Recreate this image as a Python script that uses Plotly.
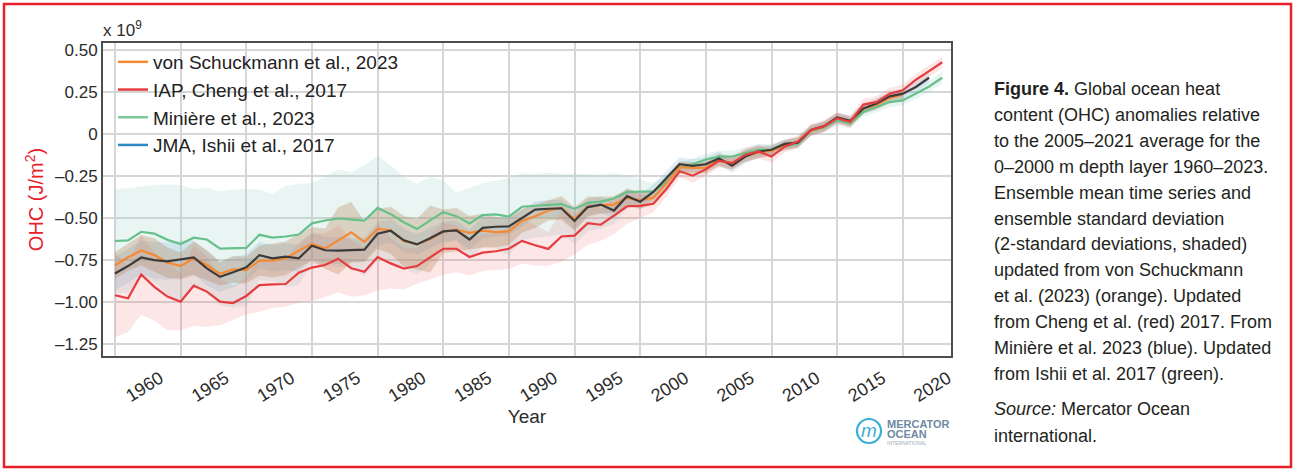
import plotly.graph_objects as go

# ---------------------------------------------------------------- data
years = list(range(1960, 2024))          # IAP and Minière: 1960-2023
vs_years = list(range(1960, 2021))       # von Schuckmann: 1960-2020
jma_years = list(range(1960, 2023))      # JMA: 1960-2022

# OHC anomaly (x 10^9 J/m^2)
iap_cheng = [
    -0.960, -0.978, -0.836, -0.910, -0.968, -0.998, -0.903, -0.938, -0.998, -1.006,
    -0.964, -0.899, -0.895, -0.893, -0.825, -0.795, -0.780, -0.742, -0.799, -0.820,
    -0.732, -0.770, -0.801, -0.786, -0.734, -0.683, -0.683, -0.732, -0.706, -0.698,
    -0.683, -0.636, -0.662, -0.684, -0.610, -0.605, -0.531, -0.540, -0.486, -0.430,
    -0.428, -0.415, -0.327, -0.222, -0.248, -0.210, -0.160, -0.173, -0.124, -0.104,
    -0.134, -0.075, -0.045, 0.024, 0.047, 0.093, 0.073, 0.175, 0.190, 0.240,
    0.260, 0.323, 0.374, 0.427,
]
miniere = [
    -0.637, -0.633, -0.582, -0.593, -0.630, -0.655, -0.617, -0.628, -0.682, -0.682,
    -0.678, -0.600, -0.617, -0.610, -0.598, -0.532, -0.515, -0.503, -0.508, -0.516,
    -0.440, -0.477, -0.525, -0.566, -0.514, -0.465, -0.489, -0.532, -0.483, -0.478,
    -0.492, -0.433, -0.427, -0.420, -0.417, -0.446, -0.410, -0.402, -0.384, -0.345,
    -0.341, -0.341, -0.285, -0.200, -0.180, -0.152, -0.135, -0.134, -0.114, -0.094,
    -0.094, -0.071, -0.059, 0.020, 0.039, 0.083, 0.063, 0.132, 0.161, 0.190,
    0.200, 0.240, 0.283, 0.335,
]
jma_ishii = [
    -0.830, -0.786, -0.735, -0.751, -0.758, -0.745, -0.734, -0.800, -0.850, -0.823,
    -0.794, -0.722, -0.740, -0.730, -0.740, -0.665, -0.692, -0.694, -0.692, -0.688,
    -0.594, -0.576, -0.633, -0.657, -0.620, -0.580, -0.574, -0.628, -0.559, -0.552,
    -0.550, -0.500, -0.450, -0.445, -0.442, -0.518, -0.435, -0.420, -0.456, -0.370,
    -0.403, -0.345, -0.260, -0.180, -0.190, -0.180, -0.146, -0.189, -0.134, -0.104,
    -0.094, -0.059, -0.051, 0.024, 0.047, 0.098, 0.079, 0.152, 0.181, 0.224,
    0.240, 0.280, 0.335,
]
von_schuckmann = [
    -0.782, -0.734, -0.693, -0.720, -0.765, -0.786, -0.740, -0.780, -0.832, -0.806,
    -0.810, -0.754, -0.754, -0.740, -0.694, -0.655, -0.682, -0.636, -0.585, -0.642,
    -0.565, -0.573, -0.638, -0.656, -0.625, -0.580, -0.570, -0.588, -0.575, -0.584,
    -0.580, -0.516, -0.490, -0.455, -0.440, -0.506, -0.433, -0.423, -0.420, -0.380,
    -0.393, -0.380, -0.294, -0.198, -0.202, -0.200, -0.155, -0.175, -0.130, -0.110,
    -0.100, -0.065, -0.050, 0.020, 0.045, 0.095, 0.072, 0.150, 0.175, 0.215,
    0.235,
]

# two-standard-deviation spreads (half-width of each shaded band)
iap_cheng_sd = [
    0.25, 0.20, 0.24, 0.20, 0.20, 0.17, 0.24, 0.21, 0.14, 0.10,
    0.11, 0.16, 0.14, 0.135, 0.18, 0.20, 0.19, 0.20, 0.17, 0.14,
    0.20, 0.15, 0.125, 0.105, 0.13, 0.155, 0.14, 0.11, 0.11, 0.11,
    0.12, 0.135, 0.12, 0.10, 0.15, 0.11, 0.13, 0.095, 0.11, 0.105,
    0.07, 0.05, 0.045, 0.04, 0.04, 0.04, 0.04, 0.04, 0.04, 0.04,
    0.035, 0.035, 0.035, 0.035, 0.035, 0.035, 0.035, 0.035, 0.035, 0.035,
    0.035, 0.035, 0.035, 0.035,
]
miniere_sd = [
    0.31, 0.31, 0.27, 0.29, 0.33, 0.35, 0.29, 0.31, 0.34, 0.35,
    0.35, 0.27, 0.26, 0.30, 0.30, 0.24, 0.26, 0.29, 0.28, 0.33,
    0.31, 0.29, 0.27, 0.27, 0.26, 0.19, 0.14, 0.21, 0.19, 0.20,
    0.23, 0.20, 0.19, 0.19, 0.18, 0.21, 0.17, 0.16, 0.15, 0.10,
    0.07, 0.05, 0.04, 0.035, 0.035, 0.035, 0.035, 0.035, 0.035, 0.035,
    0.03, 0.03, 0.03, 0.03, 0.03, 0.03, 0.03, 0.03, 0.03, 0.03,
    0.03, 0.03, 0.035, 0.035,
]
jma_ishii_sd = [
    0.10, 0.10, 0.10, 0.11, 0.11, 0.11, 0.10, 0.10, 0.09, 0.09,
    0.08, 0.08, 0.08, 0.08, 0.08, 0.08, 0.08, 0.08, 0.07, 0.07,
    0.07, 0.07, 0.07, 0.06, 0.06, 0.06, 0.06, 0.06, 0.06, 0.06,
    0.05, 0.05, 0.05, 0.05, 0.05, 0.05, 0.05, 0.05, 0.05, 0.05,
    0.045, 0.045, 0.04, 0.04, 0.04, 0.04, 0.04, 0.04, 0.04, 0.04,
    0.03, 0.03, 0.03, 0.03, 0.03, 0.03, 0.03, 0.03, 0.03, 0.03,
    0.03, 0.03, 0.03,
]
von_schuckmann_sd = [
    0.08, 0.08, 0.09, 0.10, 0.09, 0.08, 0.10, 0.09, 0.07, 0.08,
    0.08, 0.09, 0.10, 0.10, 0.10, 0.10, 0.12, 0.20, 0.18, 0.12,
    0.12, 0.14, 0.15, 0.15, 0.20, 0.13, 0.13, 0.10, 0.10, 0.09,
    0.08, 0.07, 0.07, 0.06, 0.07, 0.07, 0.06, 0.05, 0.05, 0.05,
    0.05, 0.04, 0.04, 0.035, 0.035, 0.035, 0.035, 0.035, 0.035, 0.035,
    0.03, 0.03, 0.03, 0.03, 0.03, 0.03, 0.03, 0.03, 0.03, 0.03,
    0.03,
]

x_ticks = list(range(1960, 2021, 5))
y_ticks = [-1.25, -1.0, -0.75, -0.5, -0.25, 0, 0.25, 0.5]
y_tick_text = ["\u20131.25", "\u20131.00", "\u20130.75", "\u20130.50", "\u20130.25", "0", "0.25", "0.50"]

caption_lines = [
    "<b>Figure 4.</b> Global ocean heat",
    "content (OHC) anomalies relative",
    "to the 2005\u20132021 average for the",
    "0\u20132000 m depth layer 1960\u20132023.",
    "Ensemble mean time series and",
    "ensemble standard deviation",
    "(2-standard deviations, shaded)",
    "updated from von Schuckmann",
    "et al. (2023) (orange). Updated",
    "from Cheng et al. (red) 2017. From",
    "Mini\u00e8re et al. 2023 (blue). Updated",
    "from Ishii et al. 2017 (green).",
]
source_lines = ["<i>Source:</i> Mercator Ocean", "international."]

# ---------------------------------------------------------------- layout geometry (px)
W, H = 1297, 470
ML, MR, MT, MB = 103, 346, 43, 114
PW, PH = W - ML - MR, H - MT - MB


def px(x):
    return (x - ML) / PW


def py(y):
    return (H - MB - y) / PH


FONT = "Liberation Sans, Arial, sans-serif"
TXT = "#2b2b2b"

fig = go.Figure()


def band(xs, mid, sd, fill):
    upper = [m + s for m, s in zip(mid, sd)]
    lower = [m - s for m, s in zip(mid, sd)]
    fig.add_trace(go.Scatter(
        x=xs + xs[::-1], y=upper + lower[::-1], fill="toself", fillcolor=fill,
        line=dict(width=0), mode="lines", hoverinfo="skip", showlegend=False))


# shaded ensemble spreads
band(years, miniere, miniere_sd, "rgba(150,210,200,0.22)")
band(jma_years, jma_ishii, jma_ishii_sd, "rgba(130,185,215,0.25)")
band(years, iap_cheng, iap_cheng_sd, "rgba(235,100,100,0.16)")
band(vs_years, von_schuckmann, von_schuckmann_sd, "rgba(180,120,70,0.28)")

# ensemble mean lines
series = [
    (years, miniere, "#66C08A"),
    (vs_years, von_schuckmann, "#F58A33"),
    (jma_years, jma_ishii, "#3b3b3b"),
    (years, iap_cheng, "#E63B3F"),
]
for xs, ys, col in series:
    fig.add_trace(go.Scatter(x=xs, y=ys, mode="lines", line=dict(color=col, width=2.2),
                             showlegend=False, hoverinfo="skip"))

# legend entries
legend_items = [
    ("von Schuckmann et al., 2023", "#F58A33"),
    ("IAP, Cheng et al., 2017", "#E63B3F"),
    ("Mini\u00e8re et al., 2023", "#7CCB97"),
    ("JMA, Ishii et al., 2017", "#2E8BC0"),
]
for name, col in legend_items:
    fig.add_trace(go.Scatter(x=[None], y=[None], mode="lines", name=name,
                             line=dict(color=col, width=2.5)))

annotations = [
    dict(text="x 10<sup>9</sup>", x=px(101), y=py(29), xref="paper", yref="paper",
         xanchor="left", yanchor="middle", showarrow=False,
         font=dict(family=FONT, size=17, color=TXT)),
]
for i, line in enumerate(caption_lines):
    annotations.append(dict(text=line, x=px(992), y=py(89 + 25.9 * i), xref="paper", yref="paper",
                            xanchor="left", yanchor="middle", showarrow=False,
                            font=dict(family=FONT, size=18, color="#231f20")))
for i, line in enumerate(source_lines):
    annotations.append(dict(text=line, x=px(992), y=py(409 + 26.5 * i), xref="paper", yref="paper",
                            xanchor="left", yanchor="middle", showarrow=False,
                            font=dict(family=FONT, size=18, color="#231f20")))

# Mercator Ocean mark
annotations += [
    dict(text="<i>m</i>", x=px(869), y=py(430), xref="paper", yref="paper",
         xanchor="center", yanchor="middle", showarrow=False,
         font=dict(family=FONT, size=19, color="#3AAFD6")),
    dict(text="<b>MERCATOR</b>", x=px(885), y=py(424), xref="paper", yref="paper",
         xanchor="left", yanchor="middle", showarrow=False,
         font=dict(family=FONT, size=11, color="#6f8aa3")),
    dict(text="<b>OCEAN</b>", x=px(885), y=py(434), xref="paper", yref="paper",
         xanchor="left", yanchor="middle", showarrow=False,
         font=dict(family=FONT, size=11, color="#6f8aa3")),
    dict(text="INTERNATIONAL", x=px(885), y=py(443), xref="paper", yref="paper",
         xanchor="left", yanchor="middle", showarrow=False,
         font=dict(family=FONT, size=5, color="#9aaabb")),
]

shapes = [
    dict(type="rect", xref="paper", yref="paper", x0=px(4), x1=px(1291), y0=py(467), y1=py(4),
         line=dict(color="#E8202A", width=2.5)),
    dict(type="circle", xref="paper", yref="paper", x0=px(857), x1=px(881), y0=py(443), y1=py(419),
         line=dict(color="#3AAFD6", width=2.2)),
]

fig.update_layout(
    width=W, height=H,
    margin=dict(l=ML, r=MR, t=MT, b=MB),
    paper_bgcolor="white", plot_bgcolor="white",
    font=dict(family=FONT, color=TXT),
    showlegend=True,
    legend=dict(x=px(113), y=py(43), xanchor="left", yanchor="top",
                bgcolor="rgba(0,0,0,0)", borderwidth=0,
                font=dict(family=FONT, size=19, color="#222"),
                tracegroupgap=0, itemwidth=30),
    annotations=annotations,
    shapes=shapes,
)

fig.update_xaxes(
    range=[1959.09, 2023.67], tickvals=x_ticks, tickangle=-32,
    tickfont=dict(family=FONT, size=18, color=TXT),
    ticklabelshift=45, ticklabelstandoff=3,
    showgrid=True, gridcolor="#d6d6d6", gridwidth=1.5,
    showline=True, linecolor="#4d4d4d", linewidth=2, mirror=True,
    ticks="", zeroline=False,
    title=dict(text="Year", font=dict(family=FONT, size=19, color=TXT), standoff=3),
)
fig.update_yaxes(
    range=[-1.3214, 0.5417], tickvals=y_ticks, ticktext=y_tick_text,
    tickfont=dict(family=FONT, size=17, color=TXT),
    showgrid=True, gridcolor="#d6d6d6", gridwidth=1.5,
    showline=True, linecolor="#4d4d4d", linewidth=2, mirror=True,
    ticks="", zeroline=False,
    title=dict(text="OHC (J/m<sup>2</sup>)", font=dict(family=FONT, size=20, color="#E8202A"),
               standoff=6),
)

fig.write_html("out.html")
